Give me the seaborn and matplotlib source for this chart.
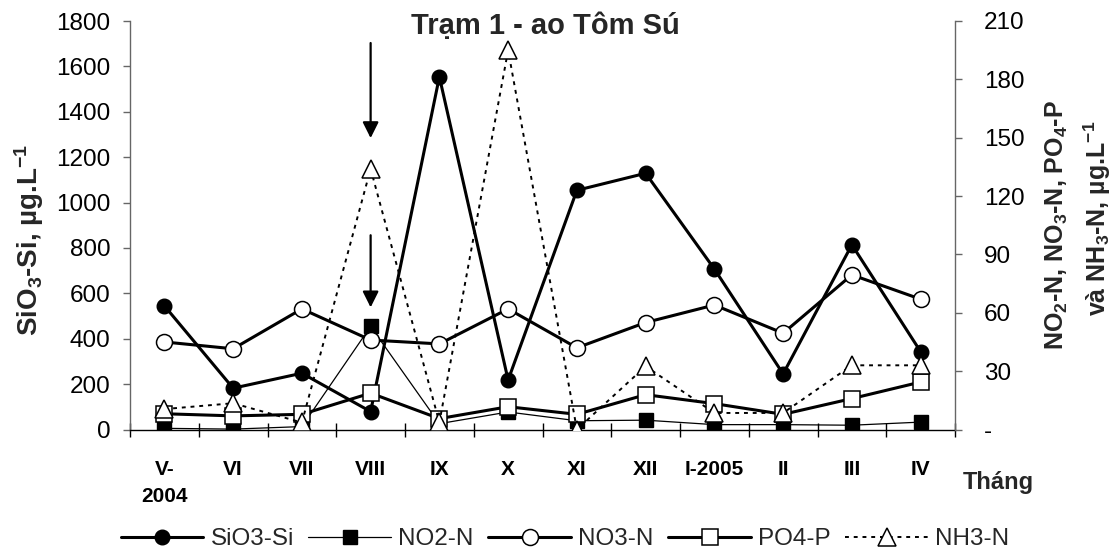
import matplotlib
matplotlib.use("Agg")
import matplotlib.pyplot as plt
import seaborn as sns
import pandas as pd
import numpy as np

# ---------------- data ----------------
months = ["V-\n2004", "VI", "VII", "VIII", "IX", "X", "XI", "XII", "I-2005", "II", "III", "IV"]
sio3_si = [545, 182, 248, 79, 1554, 218, 1054, 1129, 707, 245, 814, 343]
no2_n = [0.6, 0.2, 1.5, 53, 3, 9, 4.5, 4.8, 2.5, 2.5, 2.2, 3.8]
no3_n = [45, 41.5, 62, 46, 44, 62, 42, 55, 64, 49.5, 79.5, 67]
po4_p = [8.1, 7.0, 7.8, 18.7, 5.6, 11.7, 7.8, 17.9, 13.3, 7.8, 15.9, 24.4]
nh3_n = [10.5, 13.5, 3.6, 134, 3.6, 195, 0, 32.5, 8.5, 8.5, 33, 33]

left_ticks = [0, 200, 400, 600, 800, 1000, 1200, 1400, 1600, 1800]
right_ticks = [0, 30, 60, 90, 120, 150, 180, 210]
right_tick_labels = ["-", "30", "60", "90", "120", "150", "180", "210"]

title = "Trạm 1 - ao Tôm Sú"
xlabel = "Tháng"

# ---------------- style ----------------
sns.set_theme(style="white")
plt.rcParams["font.family"] = ["Liberation Sans", "DejaVu Sans"]
plt.rcParams["mathtext.fontset"] = "custom"
plt.rcParams["mathtext.rm"] = "Liberation Sans"
plt.rcParams["mathtext.bf"] = "Liberation Sans:bold"
plt.rcParams["mathtext.it"] = "Liberation Sans:italic"

W, H = 1117, 556
fig = plt.figure(figsize=(W / 100, H / 100), dpi=100)
fig.patch.set_facecolor("white")
ax = fig.add_axes([130 / W, 1 - 429.5 / H, 825 / W, 408.5 / H])
ax2 = ax.twinx()

df = pd.DataFrame({
    "pos": np.arange(len(months)),
    "SiO3-Si": sio3_si,
    "NO2-N": no2_n,
    "NO3-N": no3_n,
    "PO4-P": po4_p,
    "NH3-N": nh3_n,
})

sns.lineplot(data=df, x="pos", y="SiO3-Si", ax=ax, color="black", linewidth=2.2,
             marker="o", markersize=10.5, markerfacecolor="black",
             markeredgecolor="black", markeredgewidth=1.0, label="SiO3-Si", legend=False)
sns.lineplot(data=df, x="pos", y="NO2-N", ax=ax2, color="black", linewidth=0.9,
             marker="s", markersize=10, markerfacecolor="black",
             markeredgecolor="black", markeredgewidth=1.0, label="NO2-N", legend=False)
sns.lineplot(data=df, x="pos", y="NO3-N", ax=ax2, color="black", linewidth=2.2,
             marker="o", markersize=11.5, markerfacecolor="white",
             markeredgecolor="black", markeredgewidth=1.1, label="NO3-N", legend=False)
sns.lineplot(data=df, x="pos", y="PO4-P", ax=ax2, color="black", linewidth=2.2,
             marker="s", markersize=12, markerfacecolor="white",
             markeredgecolor="black", markeredgewidth=1.1, label="PO4-P", legend=False)
sns.lineplot(data=df, x="pos", y="NH3-N", ax=ax2, color="black", linewidth=1.4,
             linestyle=(0, (2, 2.5)),
             marker="^", markersize=13, markerfacecolor="white",
             markeredgecolor="black", markeredgewidth=1.1, label="NH3-N", legend=False)

# ---------------- axes ----------------
ax.set_xlim(-0.5, len(months) - 0.5)
ax.set_ylim(0, 1800)
ax2.set_ylim(0, 210)
ax.set_xlabel("")
ax.set_ylabel("")
ax2.set_ylabel("")

ax.set_xticks(np.arange(len(months)))
ax.set_xticklabels(months, fontweight="bold", fontsize=15, linespacing=1.55)
ax.set_xticks(np.arange(-0.5, len(months), 1), minor=True)
ax.tick_params(axis="x", which="major", length=0, pad=22, colors="black")
ax.tick_params(axis="x", which="minor", direction="inout", length=10, width=1.0,
               color="black", bottom=True)

ax.set_yticks(left_ticks)
ax.set_yticklabels([str(t) for t in left_ticks], fontsize=17.5)
ax.tick_params(axis="y", which="major", direction="out", length=5, width=1.0,
               color="#666666", pad=9, left=True, labelcolor="black")

ax2.set_yticks(right_ticks)
ax2.set_yticklabels(right_tick_labels, fontsize=17.5)
ax2.tick_params(axis="y", which="major", direction="out", length=5, width=1.0,
                color="#666666", pad=16, right=True, labelcolor="black")

for a in (ax, ax2):
    a.spines["top"].set_visible(False)
    a.grid(False)
ax.spines["right"].set_visible(False)
ax.spines["left"].set_color("#666666")
ax.spines["left"].set_linewidth(1.0)
ax.spines["bottom"].set_color("black")
ax.spines["bottom"].set_linewidth(1.0)
ax2.spines["left"].set_visible(False)
ax2.spines["bottom"].set_visible(False)
ax2.spines["right"].set_color("#666666")
ax2.spines["right"].set_linewidth(1.0)

# arrows at VIII
arrow_kw = dict(arrowstyle="-|>", color="black", lw=1.6, mutation_scale=24,
                shrinkA=0, shrinkB=0)
ax.annotate("", xy=(3, 1284), xytext=(3, 1703), arrowprops=arrow_kw)
ax.annotate("", xy=(3, 538), xytext=(3, 856), arrowprops=arrow_kw)

# ---------------- texts ----------------
fig.text(545 / W, 1 - 26 / H, title, ha="center", va="center",
         fontsize=21, fontweight="bold")
fig.text(998 / W, 1 - 483 / H, xlabel, ha="center", va="center",
         fontsize=17, fontweight="bold")
fig.text(29 / W, 1 - 240 / H, r"SiO$_\mathbf{3}$-Si, µg.L$^{\mathbf{-1}}$",
         rotation=90, ha="center", va="center", fontsize=20, fontweight="bold")
fig.text(1057 / W, 1 - 225 / H, r"NO$_\mathbf{2}$-N, NO$_\mathbf{3}$-N, PO$_\mathbf{4}$-P",
         rotation=90, ha="center", va="center", fontsize=18, fontweight="bold")
fig.text(1097 / W, 1 - 218 / H, r"và NH$_\mathbf{3}$-N, µg.L$^{\mathbf{-1}}$",
         rotation=90, ha="center", va="center", fontsize=18, fontweight="bold")

# ---------------- legend ----------------
h1, l1 = ax.get_legend_handles_labels()
h2, l2 = ax2.get_legend_handles_labels()
fig.legend(h1 + h2, l1 + l2, loc="center", bbox_to_anchor=(565 / W, 17 / H),
           ncol=5, frameon=False, fontsize=17.5, handlelength=3.4,
           handletextpad=0.3, columnspacing=0.6, borderaxespad=0)

fig.savefig("out.png", dpi=100, facecolor="white")
